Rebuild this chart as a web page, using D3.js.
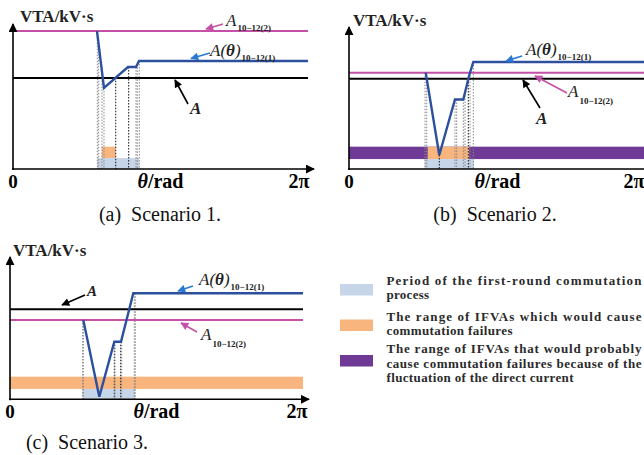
<!DOCTYPE html>
<html>
<head>
<meta charset="utf-8">
<script src="https://cdn.jsdelivr.net/npm/d3@7/dist/d3.min.js"></script>
<style>
  html, body { margin: 0; padding: 0; background: #fff; }
  svg { display: block; }
  text { font-family: "Liberation Serif", "DejaVu Serif", serif; }
</style>
</head>
<body>
<svg id="chart" width="644" height="455"></svg>
<script>
// ---------------- DATA ----------------
const TWO_PI = 2 * Math.PI;
const xTickLabels = ["0", "θ/rad", "2π"];
const yAxisLabel = "VTA/kV·s";
const captions = ["(a)  Scenario 1.", "(b)  Scenario 2.", "(c)  Scenario 3."];

// Scenario 1
const s1Theta = [1.789, 1.938, 2.449, 2.620, 2.684, TWO_PI];
const s1Actual = [9.58, 5.63, 7.08, 7.08, 7.50, 7.50];      // A(θ)10-12(1)
const s1A2 = 9.58;                                          // A10-12(2)
const s1A = 6.32;                                           // A
const s1Period = [1.795, 2.690];                            // first-round commutation
const s1FailX = [1.889, 2.183], s1FailY = [0.76, 1.55];     // IFVA range causing CF
const s1Guides = [1.796, 1.825, 1.895, 1.938, 2.188, 2.464, 2.620, 2.647, 2.690];
const s1GuideDark = [0, 0, 0, 0, 1, 1, 0, 0, 0];

// Scenario 2
const s2Theta = [1.623, 1.910, 2.242, 2.418, 2.545, 2.630, TWO_PI];
const s2Actual = [6.69, 0.97, 4.83, 4.83, 6.53, 7.43, 7.43];
const s2A2 = 6.69;
const s2A = 6.27;
const s2Period = [1.600, 2.645];
const s2FailX = [1.665, 2.539], s2FailY = [0.69, 1.55];
const s2ProbY = [0.69, 1.55];                               // probable CF range (full width)
const s2Guides = [1.608, 1.644, 1.910, 2.242, 2.278, 2.418, 2.454, 2.524, 2.560, 2.630];
const s2GuideDark = [0, 0, 1, 0, 0, 0, 0, 1, 0, 0];

// Scenario 3
const s3Theta = [1.572, 1.915, 2.237, 2.380, 2.644, TWO_PI];
const s3Actual = [5.51, 0.18, 4.00, 4.00, 7.36, 7.36];
const s3A2 = 5.51;
const s3A = 6.25;
const s3Period = [1.559, 2.680];
const s3FailY = [0.72, 1.57];                               // CF range (full width)
const s3Guides = [1.559, 1.572, 2.237, 2.252, 2.374, 2.395, 2.666, 2.687];
const s3GuideDark = [0, 0, 1, 0, 1, 0, 0, 0];

const legendLabels = [
  ["Period of the first-round commutation", "process"],
  ["The range of IFVAs which would cause", "commutation failures"],
  ["The range of IFVAs that would probably", "cause commutation failures because of the", "fluctuation of the direct current"]
];
const legendLineWidths = [[255, 42.6], [255, 126], [255, 255, 187]];

// ---------------- STYLE ----------------
const C = {
  pink: "#c450a8", blue: "#2c4f9e", arrowBlue: "#2a78cf", black: "#000",
  period: "#c6d6e8", fail: "#f8b57e", prob: "#6f3a95", text: "#222", legendText: "#2b2b2b"
};

const svg = d3.select("#chart");
const defs = svg.append("defs");
function marker(id, color, w, h) {
  defs.append("marker").attr("id", id).attr("viewBox", "0 0 10 10")
    .attr("refX", 9).attr("refY", 5).attr("markerWidth", w).attr("markerHeight", h)
    .attr("orient", "auto-start-reverse").attr("markerUnits", "userSpaceOnUse")
    .append("path").attr("d", "M0,0 L10,5 L0,10 z").attr("fill", color);
}
marker("axArrow", "#000", 9, 9);
marker("arBlack", "#000", 9, 8);
marker("arPink", C.pink, 9, 8);
marker("arBlue", C.arrowBlue, 9, 8);

const panels = [
  { x0: 13, x1: 308, axEnd: 314, y0: 169, yTop: 24, theta: s1Theta, actual: s1Actual, a2: s1A2, a: s1A,
    period: s1Period, failX: s1FailX, failY: s1FailY, guides: s1Guides, dark: s1GuideDark,
    labX: 20, labY: 22, capX: 160, capY: 221, twoPiDx: -9,
    ann: {
      pink: { from: [223, 24], to: [206, 29], tx: 226, ty: 26 },
      blue: { from: [210, 53], to: [191, 58.5], tx: 210, ty: 56 },
      black: { from: [188, 104], to: [175, 80], tx: 190, ty: 114 }
    }},
  { x0: 349, x1: 646, axEnd: 652, y0: 169, yTop: 27, theta: s2Theta, actual: s2Actual, a2: s2A2, a: s2A,
    period: s2Period, failX: s2FailX, failY: s2FailY, probY: s2ProbY, guides: s2Guides, dark: s2GuideDark,
    labX: 353, labY: 26, capX: 495, capY: 221, twoPiDx: -12,
    ann: {
      blue: { from: [522, 56], to: [506, 61], tx: 526, ty: 55 },
      pink: { from: [567, 93], to: [535, 76], tx: 568, ty: 97, subBelow: true },
      black: { from: [540, 108], to: [523, 80], tx: 536, ty: 124 }
    }},
  { x0: 10, x1: 303, axEnd: 309, y0: 399.3, yTop: 257, theta: s3Theta, actual: s3Actual, a2: s3A2, a: s3A,
    period: s3Period, failY: s3FailY, failFull: true, guides: s3Guides, dark: s3GuideDark,
    labX: 13, labY: 256, capX: 87, capY: 449, twoPiDx: -6,
    ann: {
      blue: { from: [193, 286], to: [178, 291], tx: 199, ty: 285 },
      pink: { from: [197, 332], to: [181, 323], tx: 201, ty: 340, subBelow: true },
      black: { from: [85, 295], to: [62, 305], tx: 87, ty: 296, small: true }
    }}
];

panels.forEach((p, i) => {
  const g = svg.append("g");
  const x = d3.scaleLinear().domain([0, TWO_PI]).range([p.x0, p.x1]);
  const y = d3.scaleLinear().domain([0, 10]).range([p.y0, p.y0 - 144]);
  const interp = d3.scaleLinear().domain(p.theta).range(p.actual);

  if (p.probY) {
    g.append("rect").attr("x", x(0)).attr("width", x(TWO_PI) - x(0))
      .attr("y", y(p.probY[1])).attr("height", y(p.probY[0]) - y(p.probY[1])).attr("fill", C.prob);
  }
  if (p.failFull) {
    g.append("rect").attr("x", x(0)).attr("width", x(TWO_PI) - x(0))
      .attr("y", y(p.failY[1])).attr("height", y(p.failY[0]) - y(p.failY[1])).attr("fill", C.fail);
  } else {
    g.append("rect").attr("x", x(p.failX[0])).attr("width", x(p.failX[1]) - x(p.failX[0]))
      .attr("y", y(p.failY[1])).attr("height", y(p.failY[0]) - y(p.failY[1])).attr("fill", C.fail);
  }
  const periodTop = p.probY ? p.probY[0] : p.failY[0];
  g.append("rect").attr("x", x(p.period[0])).attr("width", x(p.period[1]) - x(p.period[0]))
    .attr("y", y(periodTop)).attr("height", y(0) - y(periodTop)).attr("fill", C.period);

  g.selectAll("line.guide").data(p.guides).join("line").attr("class", "guide")
    .attr("x1", d => x(d)).attr("x2", d => x(d))
    .attr("y1", d => y(interp(Math.min(Math.max(d, p.theta[0]), TWO_PI))))
    .attr("y2", y(0))
    .attr("stroke", (d, j) => p.dark[j] ? "#111" : "#888")
    .attr("stroke-width", 1).attr("stroke-dasharray", "1.5,1.5");

  g.append("line").attr("x1", x(0)).attr("x2", x(TWO_PI)).attr("y1", y(p.a)).attr("y2", y(p.a))
    .attr("stroke", C.black).attr("stroke-width", 2);
  g.append("line").attr("x1", x(0)).attr("x2", x(TWO_PI)).attr("y1", y(p.a2)).attr("y2", y(p.a2))
    .attr("stroke", C.pink).attr("stroke-width", 2);
  const line = d3.line().x(d => x(d[0])).y(d => y(d[1]));
  g.append("path").datum(p.theta.map((t, j) => [t, p.actual[j]])).attr("d", line)
    .attr("fill", "none").attr("stroke", C.blue).attr("stroke-width", 2.4).attr("stroke-linejoin", "miter");

  g.append("line").attr("x1", x(0)).attr("x2", x(0)).attr("y1", y(0) + 1).attr("y2", p.yTop)
    .attr("stroke", "#000").attr("stroke-width", 1.6).attr("marker-end", "url(#axArrow)");
  g.append("line").attr("x1", x(0) - 1).attr("x2", p.axEnd).attr("y1", y(0)).attr("y2", y(0))
    .attr("stroke", "#000").attr("stroke-width", 1.6).attr("marker-end", "url(#axArrow)");

  g.append("text").attr("x", p.labX).attr("y", p.labY).attr("font-size", 17).attr("font-weight", "bold")
    .attr("fill", C.text).text(yAxisLabel);
  const tickY = y(0) + 19;
  g.append("text").attr("x", x(0)).attr("y", tickY).attr("text-anchor", "middle")
    .attr("font-size", 19).attr("font-weight", "bold").text(xTickLabels[0]);
  const th = g.append("text").attr("x", x(Math.PI)).attr("y", tickY).attr("text-anchor", "middle")
    .attr("font-size", 20).attr("font-weight", "bold");
  th.append("tspan").attr("font-style", "italic").text(xTickLabels[1].slice(0, 1));
  th.append("tspan").text(xTickLabels[1].slice(1));
  g.append("text").attr("x", x(TWO_PI) + p.twoPiDx).attr("y", tickY).attr("text-anchor", "middle")
    .attr("font-size", 20).attr("font-weight", "bold").text(xTickLabels[2]);

  g.append("text").attr("x", p.capX).attr("y", p.capY).attr("text-anchor", "middle")
    .attr("font-size", 20).attr("fill", "#111").attr("xml:space", "preserve")
    .style("white-space", "pre").text(captions[i]);

  const an = p.ann;
  const arrow = (a, id, color) => g.append("line").attr("x1", a.from[0]).attr("y1", a.from[1])
    .attr("x2", a.to[0]).attr("y2", a.to[1]).attr("stroke", color).attr("stroke-width", 1.6)
    .attr("marker-end", `url(#${id})`);
  arrow(an.pink, "arPink", C.pink);
  arrow(an.blue, "arBlue", C.arrowBlue);
  arrow(an.black, "arBlack", "#000");

  const tp = g.append("text").attr("x", an.pink.tx).attr("y", an.pink.ty).attr("fill", C.text);
  tp.append("tspan").attr("font-size", 17).attr("font-style", "italic").text("A");
  tp.append("tspan").attr("font-size", 9).attr("font-weight", "bold").attr("dy", an.pink.subBelow ? 7 : 5).attr("dx", 1).text("10−12(2)");

  const tb = g.append("text").attr("x", an.blue.tx).attr("y", an.blue.ty).attr("fill", C.text);
  tb.append("tspan").attr("font-size", 17).attr("font-style", "italic").text("A(");
  tb.append("tspan").attr("font-size", 17).attr("font-style", "italic").attr("font-weight", "bold").text("θ");
  tb.append("tspan").attr("font-size", 17).attr("font-style", "italic").text(")");
  tb.append("tspan").attr("font-size", 9).attr("font-weight", "bold").attr("dy", 5).attr("dx", 1).text("10−12(1)");

  g.append("text").attr("x", an.black.tx).attr("y", an.black.ty).attr("fill", C.text)
    .attr("font-size", an.black.small ? 15 : 17).attr("font-style", "italic").attr("font-weight", "bold").text("A");
});

// ---------------- LEGEND ----------------
const legendColors = [C.period, C.fail, C.prob];
const legendSwatchY = [284, 319.5, 355];
const legendTextY = [285, 320.7, 353.3];
const lg = svg.append("g");
legendLabels.forEach((lines, i) => {
  lg.append("rect").attr("x", 340).attr("y", legendSwatchY[i]).attr("width", 33).attr("height", 11.5)
    .attr("fill", legendColors[i]);
  const t = lg.append("text").attr("x", 386.5).attr("y", legendTextY[i]).attr("font-size", 13)
    .attr("font-weight", "bold").attr("fill", C.legendText);
  lines.forEach((l, k) => t.append("tspan").attr("x", 386.5).attr("dy", k === 0 ? 0 : 14.2)
    .attr("textLength", legendLineWidths[i][k]).attr("lengthAdjust", "spacing").text(l));
});
</script>
</body>
</html>
